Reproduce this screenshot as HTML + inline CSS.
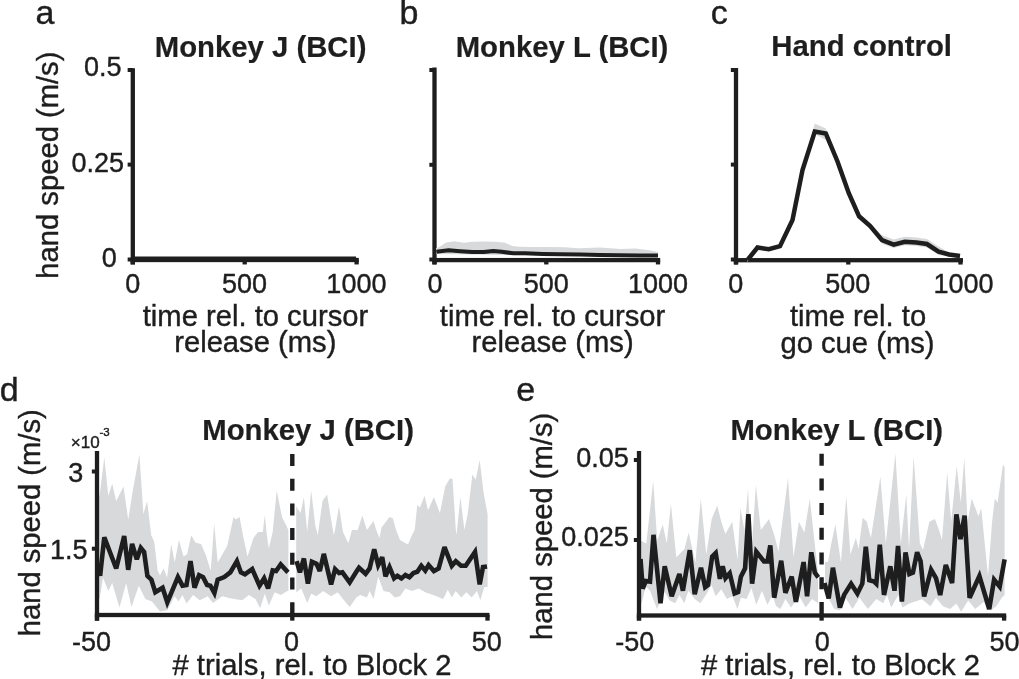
<!DOCTYPE html>
<html><head><meta charset="utf-8"><style>
html,body{margin:0;padding:0;background:#fff;}
svg{display:block;will-change:transform;}
text{font-family:"Liberation Sans", sans-serif;fill:#1e1e1e;stroke:#1e1e1e;stroke-width:0.4px;}
text[font-weight=bold]{stroke-width:0.2px;}
</style></head><body>
<svg width="1019" height="679" viewBox="0 0 1019 679">
<rect width="1019" height="679" fill="#fff"/>
<rect x="130.65" y="68.20" width="4.30" height="196.20" fill="#1e1e1e"/>
<rect x="130.65" y="257.85" width="228.15" height="4.30" fill="#1e1e1e"/>
<rect x="127.65" y="68.00" width="5.15" height="4.00" fill="#1e1e1e"/>
<rect x="127.65" y="162.60" width="5.15" height="4.00" fill="#1e1e1e"/>
<rect x="127.65" y="257.50" width="5.15" height="4.00" fill="#1e1e1e"/>
<rect x="130.65" y="260.00" width="4.30" height="4.45" fill="#1e1e1e"/>
<rect x="242.55" y="260.00" width="4.30" height="4.45" fill="#1e1e1e"/>
<rect x="354.45" y="260.00" width="4.30" height="4.45" fill="#1e1e1e"/>
<polyline points="134.0,258.3 356.0,258.3" fill="none" stroke="#1e1e1e" stroke-width="3.5" stroke-linejoin="miter" stroke-miterlimit="3"/>
<rect x="432.35" y="67.50" width="4.30" height="196.90" fill="#1e1e1e"/>
<rect x="432.35" y="257.95" width="227.85" height="4.30" fill="#1e1e1e"/>
<rect x="429.35" y="68.00" width="5.15" height="4.00" fill="#1e1e1e"/>
<rect x="429.35" y="162.80" width="5.15" height="4.00" fill="#1e1e1e"/>
<rect x="429.35" y="257.50" width="5.15" height="4.00" fill="#1e1e1e"/>
<rect x="432.35" y="260.10" width="4.30" height="4.35" fill="#1e1e1e"/>
<rect x="544.15" y="260.10" width="4.30" height="4.35" fill="#1e1e1e"/>
<rect x="655.85" y="260.10" width="4.30" height="4.35" fill="#1e1e1e"/>
<polygon points="436.0,248.0 438.0,247.7 446.2,242.4 454.4,241.2 463.9,242.7 472.1,241.8 483.9,241.5 495.7,241.8 505.1,242.7 512.2,245.9 519.2,246.7 531.0,247.1 545.0,247.1 565.0,247.3 578.0,248.3 600.0,247.5 620.0,249.0 635.0,248.4 648.0,250.0 658.0,252.0 658.0,257.0 436.0,254.0" fill="#d7d9db"/>
<polyline points="436.3,251.8 448.6,250.3 460.3,251.2 472.1,252.1 483.9,252.1 493.3,251.0 501.6,251.8 513.3,253.3 525.1,253.3 542.8,253.9 560.0,254.2 580.0,254.6 600.0,255.0 620.0,255.3 640.0,255.4 658.0,255.4" fill="none" stroke="#1e1e1e" stroke-width="4" stroke-linejoin="miter" stroke-miterlimit="3"/>
<rect x="733.85" y="68.00" width="4.30" height="196.40" fill="#1e1e1e"/>
<rect x="733.85" y="258.05" width="229.15" height="4.30" fill="#1e1e1e"/>
<rect x="730.85" y="68.00" width="5.15" height="4.00" fill="#1e1e1e"/>
<rect x="730.85" y="162.60" width="5.15" height="4.00" fill="#1e1e1e"/>
<rect x="730.85" y="257.50" width="5.15" height="4.00" fill="#1e1e1e"/>
<rect x="733.85" y="260.20" width="4.30" height="4.35" fill="#1e1e1e"/>
<rect x="846.15" y="260.20" width="4.30" height="4.35" fill="#1e1e1e"/>
<rect x="958.35" y="260.20" width="4.30" height="4.35" fill="#1e1e1e"/>
<polygon points="747.5,258.0 757.5,245.5 768.8,247.2 780.0,244.2 792.5,218.0 802.5,168.0 814.8,123.4 825.8,128.6 837.5,159.5 848.8,191.2 859.1,214.3 870.2,224.0 882.0,235.2 893.7,239.6 904.8,236.8 916.5,237.5 926.9,239.0 938.6,246.6 949.0,252.5 960.0,254.0 960.0,258.0 949.0,256.5 938.6,255.1 926.9,247.5 916.5,246.0 904.8,245.3 893.7,248.1 882.0,243.7 870.2,228.0 859.1,218.3 848.8,195.2 837.5,163.5 825.8,140.0 814.8,134.0 802.5,172.0 792.5,222.0 780.0,248.2 768.8,251.2 757.5,249.5 747.5,262.0" fill="#d7d9db"/>
<polyline points="747.5,260.0 757.5,247.5 768.8,249.2 780.0,246.2 792.5,220.0 802.5,170.0 814.8,131.5 825.8,133.5 837.5,161.5 848.8,193.2 859.1,216.3 870.2,226.0 882.0,240.2 893.7,244.6 904.8,241.8 916.5,242.5 926.9,244.0 938.6,251.6 949.0,254.5 960.0,256.0" fill="none" stroke="#1e1e1e" stroke-width="4.5" stroke-linejoin="miter" stroke-miterlimit="3"/>
<polygon points="97.0,496.0 99.6,495.7 104.3,457.2 108.3,495.7 112.2,483.8 116.2,501.0 123.5,486.4 128.2,519.6 132.8,490.4 139.4,454.6 143.4,514.3 147.1,501.0 151.2,535.3 154.1,541.2 157.7,570.7 160.0,575.4 163.6,568.3 167.1,577.7 171.2,544.2 174.7,562.4 178.9,540.0 183.6,556.5 187.1,554.2 191.2,535.3 195.4,542.4 201.2,544.2 206.0,555.4 210.7,570.7 214.2,523.6 217.7,562.4 227.2,545.9 233.6,517.0 235.6,519.6 239.6,517.0 242.9,535.0 247.5,556.5 253.5,538.0 258.0,532.0 262.8,532.0 264.8,515.0 266.8,535.0 268.8,548.6 272.7,532.0 276.7,490.4 282.0,517.0 286.0,524.9 288.4,530.0 288.4,591.0 287.3,591.0 280.7,595.0 274.7,592.3 268.8,605.6 264.8,593.7 260.1,608.2 255.5,599.0 248.9,595.0 242.2,600.3 234.3,599.0 230.0,598.3 222.3,596.3 213.0,603.0 207.7,596.3 199.8,600.3 193.1,595.0 186.5,603.6 182.5,595.0 178.6,601.6 174.6,596.3 167.3,610.2 160.0,611.6 152.0,601.6 145.4,599.0 138.8,585.7 131.5,607.0 126.2,583.0 119.5,607.6 112.2,583.0 108.3,591.0 103.0,577.7 99.6,599.0 97.0,599.0" fill="#d7d9db"/>
<polygon points="296.2,506.3 300.6,513.0 303.9,497.0 307.2,532.0 311.2,490.4 315.2,524.9 317.8,535.3 322.5,501.0 327.1,494.4 331.1,519.6 333.8,535.3 335.0,530.0 339.0,506.3 343.0,532.0 348.3,543.3 352.0,530.0 357.7,530.0 362.3,515.6 366.9,530.0 373.6,520.9 376.2,530.0 379.5,538.0 381.5,527.5 389.5,517.0 392.8,518.2 396.1,530.0 400.0,540.0 408.0,544.6 412.0,535.0 414.7,530.0 417.3,505.0 420.0,507.6 424.6,495.7 428.0,510.3 433.9,497.0 439.9,513.0 445.2,486.4 449.8,478.5 452.5,479.1 455.8,530.0 456.5,535.0 460.4,497.0 464.4,530.0 467.7,514.3 472.4,474.5 475.7,479.8 479.7,459.9 483.6,493.0 487.6,514.3 487.6,587.0 484.3,587.0 480.3,600.3 477.0,591.0 471.7,597.6 466.4,592.3 461.1,597.6 455.8,591.0 451.8,597.6 447.8,589.7 443.2,599.0 434.6,595.6 425.3,592.3 418.7,588.4 412.0,591.0 405.4,588.4 400.0,596.3 394.8,597.6 389.5,592.3 383.5,591.0 378.2,576.4 373.6,599.0 369.6,591.0 366.9,597.6 360.3,595.0 356.3,597.6 349.7,606.9 343.0,599.0 337.7,592.3 331.1,596.3 323.1,591.0 316.5,596.3 311.2,593.7 307.2,603.0 301.3,588.4 296.2,592.3" fill="#d7d9db"/>
<polyline points="98.5,574.0 100.3,573.8 104.3,537.3 116.2,568.5 124.2,536.0 128.2,569.8 132.1,543.9 136.8,559.2 140.8,547.9 144.1,551.9 147.4,575.8 151.4,579.7 155.3,592.3 162.6,587.7 167.3,602.3 177.9,577.1 182.5,585.7 186.5,585.0 190.5,561.2 194.5,587.7 199.1,575.1 203.1,577.1 207.1,585.0 210.4,585.7 214.4,593.0 217.7,579.7 224.3,577.1 230.3,572.4 236.9,561.2 240.9,572.4 244.9,574.4 252.2,569.1 259.5,585.7 264.1,578.4 268.1,588.4 272.7,570.5 276.1,571.1 280.7,564.5 288.0,572.4" fill="none" stroke="#1e1e1e" stroke-width="4.6" stroke-linejoin="miter" stroke-miterlimit="3"/>
<polyline points="296.6,561.2 299.9,572.4 303.9,558.5 307.9,583.7 311.9,561.8 316.5,563.8 319.8,571.1 323.8,553.9 331.1,584.4 335.1,569.1 339.1,573.1 342.4,572.4 349.7,582.4 356.3,571.8 359.0,567.8 365.6,573.8 369.6,568.5 374.2,549.2 378.2,565.1 382.2,557.2 385.5,576.4 389.5,567.1 394.1,578.4 397.4,575.8 401.4,578.4 405.4,575.1 409.4,577.1 413.4,573.1 417.3,571.8 421.3,565.8 425.3,570.5 428.6,565.1 433.9,571.1 438.6,568.5 444.5,547.2 451.8,565.8 455.8,561.2 461.1,565.8 465.7,565.8 475.0,551.9 479.7,584.4 483.0,567.1 487.0,566.5" fill="none" stroke="#1e1e1e" stroke-width="4.6" stroke-linejoin="miter" stroke-miterlimit="3"/>
<rect x="94.85" y="451.00" width="4.30" height="169.70" fill="#1e1e1e"/>
<rect x="94.85" y="612.85" width="394.65" height="4.30" fill="#1e1e1e"/>
<rect x="91.85" y="469.50" width="5.15" height="4.00" fill="#1e1e1e"/>
<rect x="91.85" y="546.70" width="5.15" height="4.00" fill="#1e1e1e"/>
<rect x="94.85" y="615.00" width="4.30" height="5.65" fill="#1e1e1e"/>
<rect x="290.15" y="615.00" width="4.30" height="5.65" fill="#1e1e1e"/>
<rect x="485.35" y="615.00" width="4.30" height="5.65" fill="#1e1e1e"/>
<line x1="292.3" y1="454" x2="292.3" y2="616" stroke="#1e1e1e" stroke-width="4.4" stroke-dasharray="12 12.7"/>
<polygon points="639.0,542.0 640.9,540.8 646.3,543.5 653.2,480.9 657.2,540.8 662.7,524.5 666.8,543.5 670.9,504.0 676.3,557.2 684.5,549.0 688.6,532.6 695.4,562.6 700.8,498.6 706.3,554.4 711.7,519.0 717.2,505.4 721.3,521.7 725.4,534.0 732.2,521.7 737.6,559.9 740.4,508.1 744.4,530.0 748.0,489.0 751.3,554.4 755.9,485.0 760.8,530.0 769.0,519.0 774.4,535.4 778.5,551.7 788.0,478.1 793.5,557.2 798.9,521.7 804.4,532.6 809.8,498.6 815.3,549.0 818.0,570.8 818.0,603.3 812.0,599.1 805.7,607.5 799.4,596.3 791.0,607.5 785.4,599.1 780.5,608.9 776.0,606.1 772.4,594.9 767.5,604.7 761.9,590.7 756.3,604.7 751.4,588.0 746.5,599.1 740.9,597.7 737.4,608.9 732.5,596.3 726.9,599.1 721.3,589.3 715.7,596.3 711.5,585.1 705.9,594.9 700.3,603.3 694.7,599.1 688.4,590.7 684.3,603.3 679.4,594.9 675.2,603.3 669.6,600.5 664.7,592.1 657.0,608.9 650.0,590.7 645.8,586.5 641.6,603.3 639.0,603.0" fill="#d7d9db"/>
<polygon points="825.0,562.0 828.0,562.0 831.0,545.0 835.4,524.5 840.9,562.6 846.3,495.9 850.4,554.4 855.9,538.1 858.6,549.0 862.7,517.7 866.8,521.7 870.9,538.1 880.4,476.8 885.8,543.5 895.4,453.6 900.8,543.5 906.3,494.5 909.0,549.0 913.6,456.3 919.9,543.5 923.0,550.0 929.4,521.7 934.9,519.0 939.0,530.0 942.0,540.0 947.2,472.7 951.2,521.7 956.7,465.9 960.8,502.7 964.3,457.7 967.6,521.7 971.7,498.6 978.5,516.3 981.2,508.1 988.0,576.2 992.1,521.7 994.8,498.6 997.6,502.7 1003.0,464.5 1004.6,467.2 1004.6,595.0 1001.8,597.8 996.2,606.2 990.6,610.4 983.6,602.0 975.2,609.0 968.2,600.6 961.2,611.8 956.3,603.4 950.0,609.0 943.0,606.2 936.0,597.8 930.4,606.2 922.0,599.2 909.4,603.4 902.4,607.6 898.2,595.0 891.2,607.6 887.0,595.0 883.3,603.3 876.3,599.1 867.9,608.9 859.5,597.7 852.5,608.9 845.5,597.7 839.9,610.3 834.3,608.9 826.0,593.5 825.0,595.0" fill="#d7d9db"/>
<polyline points="640.5,559.0 642.7,588.5 645.8,581.0 650.0,581.6 653.5,534.8 660.5,603.3 664.7,566.3 671.7,596.3 679.4,574.0 682.9,590.7 689.8,550.2 694.7,594.2 701.0,567.7 705.2,587.2 708.0,585.1 712.2,556.5 715.7,553.0 719.9,578.8 722.7,566.3 725.5,578.1 729.7,573.3 734.6,593.5 738.1,592.1 740.9,576.7 745.1,568.4 748.4,514.2 752.1,583.7 756.3,551.6 764.0,561.4 767.5,561.4 770.3,545.3 774.2,597.7 781.2,560.7 785.4,592.8 791.7,576.7 795.9,601.9 803.6,562.1 807.1,596.3 811.3,552.3 814.8,572.6 818.3,577.4" fill="none" stroke="#1e1e1e" stroke-width="4.6" stroke-linejoin="miter" stroke-miterlimit="3"/>
<polyline points="824.5,583.0 828.7,598.4 832.9,567.7 839.9,607.5 844.1,594.9 851.1,583.7 857.4,593.5 862.3,583.7 865.8,546.7 869.3,580.2 874.2,581.6 876.3,583.7 879.8,544.6 884.0,594.9 890.3,566.3 894.5,590.7 898.0,546.0 901.9,601.5 905.5,552.3 909.4,574.0 912.9,572.6 917.1,552.3 920.6,561.4 924.1,596.4 931.1,569.8 936.0,578.2 940.2,595.0 945.8,564.9 952.1,583.1 956.4,514.4 960.5,539.0 964.6,515.7 969.6,597.8 979.4,576.1 989.2,609.0 994.1,579.6 999.7,586.6 1004.6,559.3" fill="none" stroke="#1e1e1e" stroke-width="4.6" stroke-linejoin="miter" stroke-miterlimit="3"/>
<rect x="636.85" y="451.00" width="4.30" height="169.40" fill="#1e1e1e"/>
<rect x="636.85" y="613.35" width="369.35" height="4.30" fill="#1e1e1e"/>
<rect x="633.85" y="458.00" width="5.15" height="4.00" fill="#1e1e1e"/>
<rect x="633.85" y="538.00" width="5.15" height="4.00" fill="#1e1e1e"/>
<rect x="636.85" y="615.50" width="4.30" height="5.15" fill="#1e1e1e"/>
<rect x="819.45" y="615.50" width="4.30" height="5.15" fill="#1e1e1e"/>
<rect x="1001.95" y="615.50" width="4.30" height="5.15" fill="#1e1e1e"/>
<line x1="821.6" y1="453.7" x2="821.6" y2="616" stroke="#1e1e1e" stroke-width="4.4" stroke-dasharray="12 12.7"/>
<text x="35.6" y="24" font-size="34" font-weight="normal" text-anchor="start" >a</text>
<text x="399.6" y="24" font-size="34" font-weight="normal" text-anchor="start" >b</text>
<text x="710.8" y="24" font-size="34" font-weight="normal" text-anchor="start" >c</text>
<text x="-0.3" y="400.6" font-size="34" font-weight="normal" text-anchor="start" >d</text>
<text x="516.3" y="401" font-size="34" font-weight="normal" text-anchor="start" >e</text>
<text x="154.8" y="56.6" font-size="29.3" font-weight="bold" text-anchor="start" >Monkey J (BCI)</text>
<text x="455.7" y="56.9" font-size="29.3" font-weight="bold" text-anchor="start" >Monkey L (BCI)</text>
<text x="771.3" y="56" font-size="29.3" font-weight="bold" text-anchor="start" >Hand control</text>
<text x="202.3" y="440" font-size="29.3" font-weight="bold" text-anchor="start" >Monkey J (BCI)</text>
<text x="730.4" y="440" font-size="29.3" font-weight="bold" text-anchor="start" >Monkey L (BCI)</text>
<text transform="translate(57.5,278.7) rotate(-90)" font-size="29.2" x="0" y="0">hand speed (m/s)</text>
<text transform="translate(40.2,636.3) rotate(-90)" font-size="29.2" x="0" y="0">hand speed (m/s)</text>
<text transform="translate(552,639.9) rotate(-90)" font-size="29.2" x="0" y="0">hand speed (m/s)</text>
<text x="255.5" y="325.6" font-size="29.2" font-weight="normal" text-anchor="middle" >time rel. to cursor</text>
<text x="255.3" y="352.2" font-size="29.2" font-weight="normal" text-anchor="middle" >release (ms)</text>
<text x="552.6" y="325.6" font-size="29.2" font-weight="normal" text-anchor="middle" >time rel. to cursor</text>
<text x="552.6" y="352.2" font-size="29.2" font-weight="normal" text-anchor="middle" >release (ms)</text>
<text x="858" y="325.6" font-size="29.2" font-weight="normal" text-anchor="middle" >time rel. to</text>
<text x="857.5" y="352.5" font-size="29.2" font-weight="normal" text-anchor="middle" >go cue (ms)</text>
<text x="312" y="674.5" font-size="29.2" font-weight="normal" text-anchor="middle" ># trials, rel. to Block 2</text>
<text x="840.5" y="674.6" font-size="29.2" font-weight="normal" text-anchor="middle" ># trials, rel. to Block 2</text>
<text x="132.8" y="293" font-size="27" font-weight="normal" text-anchor="middle" >0</text>
<text x="244.5" y="293" font-size="27" font-weight="normal" text-anchor="middle" >500</text>
<text x="356.4" y="293" font-size="27" font-weight="normal" text-anchor="middle" >1000</text>
<text x="435" y="293" font-size="27" font-weight="normal" text-anchor="middle" >0</text>
<text x="546.3" y="293" font-size="27" font-weight="normal" text-anchor="middle" >500</text>
<text x="658" y="293" font-size="27" font-weight="normal" text-anchor="middle" >1000</text>
<text x="735.8" y="293" font-size="27" font-weight="normal" text-anchor="middle" >0</text>
<text x="847.8" y="293" font-size="27" font-weight="normal" text-anchor="middle" >500</text>
<text x="963.5" y="293" font-size="27" font-weight="normal" text-anchor="middle" >1000</text>
<text x="121.5" y="76.3" font-size="27" font-weight="normal" text-anchor="end" >0.5</text>
<text x="124" y="171.7" font-size="27" font-weight="normal" text-anchor="end" >0.25</text>
<text x="116.8" y="266.5" font-size="27" font-weight="normal" text-anchor="end" >0</text>
<text x="83.3" y="482.4" font-size="27" font-weight="normal" text-anchor="end" >3</text>
<text x="87.6" y="559.3" font-size="27" font-weight="normal" text-anchor="end" >1.5</text>
<text x="91.6" y="651.3" font-size="27" font-weight="normal" text-anchor="middle" >-50</text>
<text x="291.4" y="650.6" font-size="27" font-weight="normal" text-anchor="middle" >0</text>
<text x="486.8" y="650.8" font-size="27" font-weight="normal" text-anchor="middle" >50</text>
<text x="70.8" y="448.2" font-size="17">×10</text>
<text x="99.5" y="435.6" font-size="11.5">-3</text>
<text x="628.7" y="466.7" font-size="27" font-weight="normal" text-anchor="end" >0.05</text>
<text x="628.8" y="546" font-size="27" font-weight="normal" text-anchor="end" >0.025</text>
<text x="634.7" y="651.1" font-size="27" font-weight="normal" text-anchor="middle" >-50</text>
<text x="822.3" y="651.1" font-size="27" font-weight="normal" text-anchor="middle" >0</text>
<text x="1004.6" y="651" font-size="27" font-weight="normal" text-anchor="middle" >50</text>
</svg>
</body></html>
